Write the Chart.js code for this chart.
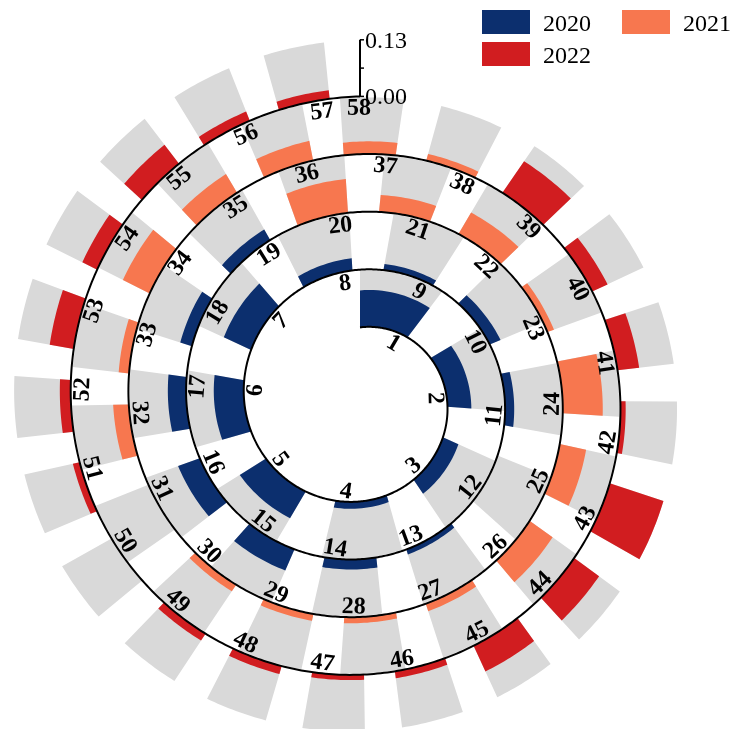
<!DOCTYPE html>
<html>
<head>
<meta charset="utf-8">
<script src="https://cdn.jsdelivr.net/npm/chart.js@4/dist/chart.umd.min.js"></script>
<style>
  html, body { margin: 0; padding: 0; background: #ffffff; }
  #wrap { width: 735px; height: 729px; }
</style>
</head>
<body>
<div id="wrap"><canvas id="chart" width="735" height="729"></canvas></div>
<script>
// ---- data -------------------------------------------------------------
const categories = ['1','2','3','4','5','6','7','8','9','10',
  '11','12','13','14','15','16','17','18','19','20',
  '21','22','23','24','25','26','27','28','29','30',
  '31','32','33','34','35','36','37','38','39','40',
  '41','42','43','44','45','46','47','48','49','50',
  '51','52','53','54','55','56','57','58'];

const seriesNames = ['2020', '2021', '2022'];
const seriesFirstCategory = ['1', '20', '39'];

const values2020 = [0.085, 0.055, 0.039, 0.016, 0.071, 0.069, 0.069, 0.028, 0.014, 0.027,
                    0.021, 0.000, 0.012, 0.023, 0.053, 0.053, 0.042, 0.028, 0.028];
const values2021 = [0.078, 0.039, 0.057, 0.016, 0.092, 0.062, 0.065, 0.018, 0.014, 0.016,
                    0.018, 0.000, 0.036, 0.024, 0.069, 0.050, 0.046, 0.029, 0.016];
const values2022 = [0.088, 0.039, 0.050, 0.012, 0.130, 0.071, 0.065, 0.016, 0.012, 0.019,
                    0.019, 0.000, 0.016, 0.025, 0.056, 0.038, 0.055, 0.023, 0.020];

const trackMax = 0.13;
const axisTicks = [0, 0.065, 0.13];
const axisTickLabels = ['0.00', '', '0.13'];

const seriesColors = ['#0c2f6e', '#f7774f', '#d11d20'];
const trackColor = '#d9d9d9';

// ---- spiral layout, in units of the radial value axis -------------------
const UNIT = trackMax / 56.6;          // one pixel of radius
const SPIRAL_START = 72.6 * UNIT;      // radius where the first turn begins
const SPIRAL_PITCH = 57.75 * UNIT;     // radius gained per turn
const SPIRAL_TURNS = 4;
const CAT_STEP = 83 * UNIT;            // curve length given to one category
const CAT_FIRST = 23 * UNIT;           // curve length to the middle of category 1
const BAR_LEN = 52 * UNIT;             // curve length covered by a bar
const LABEL_AHEAD = 17 * UNIT;         // labels sit a little further along
const LABEL_INSET = 11 * UNIT;         // and just inside the spiral line
const R_MAX = 320 * UNIT;

const B = SPIRAL_PITCH / (2 * Math.PI);
const TH_END = 2 * Math.PI * SPIRAL_TURNS;
const baseR = th => SPIRAL_START + B * th;
const curveLen = th => SPIRAL_START * th + B * th * th / 2;
const thetaAt = s => (-SPIRAL_START + Math.sqrt(SPIRAL_START * SPIRAL_START + 2 * B * s)) / B;
const S_END = curveLen(TH_END);

function polar(scale, th, v) {
  const d = scale.getDistanceFromCenterForValue(v);
  return [scale.xCenter + d * Math.sin(th), scale.yCenter - d * Math.cos(th)];
}

// ---- a bar laid along the spiral ----------------------------------------
class SpiralSegment extends Chart.Element {
  static id = 'spiralSegment';
  static defaults = { backgroundColor: '#cccccc', borderWidth: 0 };
  draw(ctx) {
    const pts = this.points;
    if (!pts || pts.length < 3) return;
    ctx.save();
    ctx.fillStyle = this.options.backgroundColor;
    ctx.beginPath();
    ctx.moveTo(pts[0][0], pts[0][1]);
    for (let i = 1; i < pts.length; i++) ctx.lineTo(pts[i][0], pts[i][1]);
    ctx.closePath();
    ctx.fill();
    ctx.restore();
  }
  inRange() { return false; }
  inXRange() { return false; }
  inYRange() { return false; }
  getCenterPoint() { return { x: this.x || 0, y: this.y || 0 }; }
  tooltipPosition() { return this.getCenterPoint(); }
}

class SpiralBarController extends Chart.DatasetController {
  static id = 'spiralBar';
  static defaults = { dataElementType: 'spiralSegment', datasetElementType: false, indexAxis: 'r' };
  static overrides = { scales: { r: { type: 'radialLinear' } } };

  update(mode) {
    const meta = this._cachedMeta;
    this.updateElements(meta.data, 0, meta.data.length, mode);
  }

  updateElements(elements, start, count, mode) {
    const scale = this._cachedMeta.rScale;
    for (let i = start; i < start + count; i++) {
      const parsed = this.getParsed(i);
      const v = parsed ? parsed.r : null;
      let points = [];
      if (v !== null && v !== undefined && !isNaN(v) && scale && scale.drawingArea) {
        const mid = CAT_FIRST + CAT_STEP * i;
        const s0 = Math.max(0, mid - BAR_LEN / 2);
        const s1 = Math.min(S_END, mid + BAR_LEN / 2);
        if (s1 > s0 && v > 0) {
          const th0 = thetaAt(s0), th1 = thetaAt(s1);
          const n = 16;
          const outer = [], inner = [];
          for (let j = 0; j <= n; j++) {
            const th = th0 + (th1 - th0) * j / n;
            outer.push(polar(scale, th, baseR(th) + v));
            inner.push(polar(scale, th, baseR(th)));
          }
          points = outer.concat(inner.reverse());
        }
      }
      this.updateElement(elements[i], i, {
        points,
        options: this.resolveDataElementOptions(i, mode)
      }, mode);
    }
  }
}

Chart.register(SpiralSegment, SpiralBarController);

// ---- spiral line, category labels and value axis ------------------------
const spiralDecor = {
  id: 'spiralDecor',
  afterDatasetsDraw(chart) {
    const scale = chart.scales.r;
    const ctx = chart.ctx;
    ctx.save();

    // the spiral itself
    ctx.beginPath();
    const n = 2000;
    for (let j = 0; j <= n; j++) {
      const th = TH_END * j / n;
      const [x, y] = polar(scale, th, baseR(th));
      if (j === 0) ctx.moveTo(x, y); else ctx.lineTo(x, y);
    }
    ctx.strokeStyle = '#000000';
    ctx.lineWidth = 2;
    ctx.stroke();

    // category labels along the inside of the line
    ctx.fillStyle = '#000000';
    ctx.font = 'bold 24px "Liberation Serif", "Times New Roman", serif';
    ctx.textAlign = 'center';
    ctx.textBaseline = 'middle';
    chart.data.labels.forEach((label, i) => {
      const s = Math.min(CAT_FIRST + CAT_STEP * i + LABEL_AHEAD, S_END - 1 * UNIT);
      const th = thetaAt(s);
      const [x, y] = polar(scale, th, baseR(th) - LABEL_INSET);
      let deg = (th * 180 / Math.PI) % 360;
      if (deg > 90 && deg < 270) deg -= 180;
      ctx.save();
      ctx.translate(x, y);
      ctx.rotate(deg * Math.PI / 180);
      ctx.fillText(label, 0, 1);
      ctx.restore();
    });

    // value axis standing on the end of the spiral
    const top = polar(scale, TH_END, baseR(TH_END) + axisTicks[axisTicks.length - 1]);
    const bottom = polar(scale, TH_END, baseR(TH_END) + axisTicks[0]);
    ctx.beginPath();
    ctx.moveTo(bottom[0], bottom[1]);
    ctx.lineTo(top[0], top[1]);
    ctx.lineWidth = 2;
    ctx.stroke();
    ctx.font = '24px "Liberation Serif", "Times New Roman", serif';
    ctx.textAlign = 'left';
    ctx.textBaseline = 'alphabetic';
    axisTicks.forEach((t, i) => {
      const [x, y] = polar(scale, TH_END, baseR(TH_END) + t);
      ctx.beginPath();
      ctx.moveTo(x, y);
      ctx.lineTo(x + 4, y);
      ctx.lineWidth = 1.5;
      ctx.stroke();
      if (axisTickLabels[i]) ctx.fillText(axisTickLabels[i], x + 5, y + 8);
    });
    ctx.restore();
  }
};

// ---- legend in two columns at the top right -----------------------------
const legendGrid = {
  id: 'legendGrid',
  afterDraw(chart) {
    const ctx = chart.ctx;
    ctx.save();
    ctx.font = '24px "Liberation Serif", "Times New Roman", serif';
    ctx.textAlign = 'left';
    ctx.textBaseline = 'alphabetic';
    chart.data.datasets.filter(d => !d.isTrack).forEach((d, i) => {
      const col = i % 2, row = Math.floor(i / 2);
      const x = 482 + col * 140;
      const y = 10 + row * 32;
      ctx.fillStyle = d.backgroundColor;
      ctx.fillRect(x, y, 48, 24);
      ctx.fillStyle = '#000000';
      ctx.fillText(d.label, x + 61, y + 21);
    });
    ctx.restore();
  }
};

// ---- datasets ------------------------------------------------------------
const seriesValues = [values2020, values2021, values2022];
function placed(values, firstCategory) {
  const out = categories.map(() => null);
  const offset = categories.indexOf(firstCategory);
  values.forEach((v, j) => { out[offset + j] = v; });
  return out;
}
const seriesData = seriesValues.map((vals, k) => placed(vals, seriesFirstCategory[k]));
const trackData = categories.map((c, i) => seriesData.some(d => d[i] !== null) ? trackMax : null);

const datasets = seriesNames.map((name, k) => ({
  label: name,
  data: seriesData[k],
  backgroundColor: seriesColors[k],
  order: 0,
  clip: false
}));
datasets.push({ label: 'track', isTrack: true, data: trackData, backgroundColor: trackColor, order: 1, clip: false });

new Chart(document.getElementById('chart'), {
  type: 'spiralBar',
  data: { labels: categories, datasets },
  options: {
    responsive: false,
    animation: false,
    events: [],
    layout: { padding: { left: 40, top: 80, right: 55, bottom: 9 } },
    scales: {
      r: { type: 'radialLinear', display: false, min: 0, max: R_MAX, bounds: 'data' }
    },
    plugins: { legend: { display: false }, tooltip: { enabled: false } }
  },
  plugins: [spiralDecor, legendGrid]
});
</script>
</body>
</html>
